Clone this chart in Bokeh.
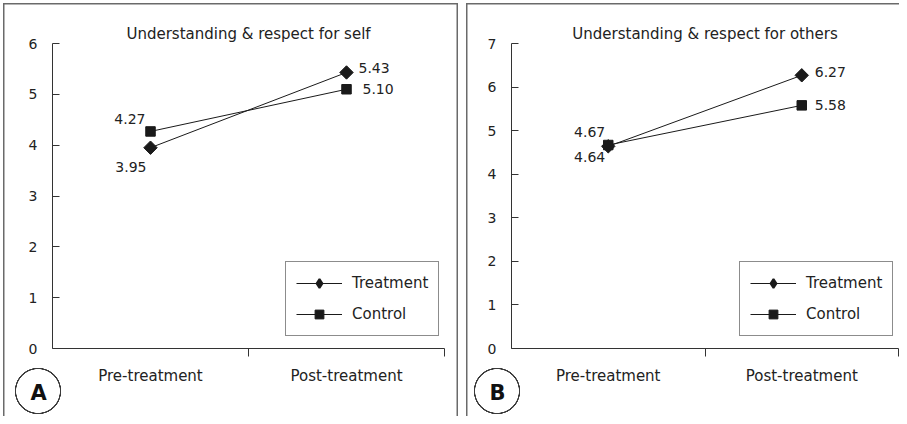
import math
from bokeh.plotting import figure
from bokeh.models import (FactorRange, Range1d, LinearAxis, CategoricalAxis, FixedTicker,
                          ColumnDataSource, Legend, LegendItem, Title)
from bokeh.layouts import row
from bokeh.core.properties import value
from bokeh.embed import file_html
from bokeh.resources import INLINE

# ---------------- data ----------------
categories = ["Pre-treatment", "Post-treatment"]
series_names = ["Treatment", "Control"]
self_title = "Understanding & respect for self"
self_treatment = [3.95, 5.43]
self_control = [4.27, 5.10]
self_ticks = [0, 1, 2, 3, 4, 5, 6]
others_title = "Understanding & respect for others"
others_treatment = [4.64, 6.27]
others_control = [4.67, 5.58]
others_ticks = [0, 1, 2, 3, 4, 5, 6, 7]
panel_letters = ["A", "B"]

# ---------------- styles ----------------
FONT = "DejaVu Sans"
TXT = "#222222"
INK = "#1a1a1a"
AX = "#333333"
# per-label styling (align, x offset px, y offset px; positive y = down)
self_styles = {
    "Treatment": [("right", -4, 19), ("left", 12, -4)],
    "Control": [("right", -5, -12), ("left", 16, 0)],
}
others_styles = {
    "Treatment": [("right", -3, 11), ("left", 13, -3)],
    "Control": [("right", -3, -13), ("left", 13, 0)],
}
RING = "transparent 21.6px, #3a3a3a 22px, #3a3a3a 23px, transparent 23.4px"
panelA_css = {"box-shadow": "inset 3px 3px 0 0 white, inset -4px 0 0 0 white, "
                            "inset 4.5px 4.5px 0 0 #6a6a6a, inset -5.5px 0 0 0 #6a6a6a",
              "background-image": f"radial-gradient(circle at 38px 391px, {RING})"}
panelB_css = {"box-shadow": "inset 4px 3px 0 0 white, inset 5.5px 4.5px 0 0 #6a6a6a",
              "background-image": f"radial-gradient(circle at 35px 391px, {RING})"}


def make_panel(title, treat, ctrl, ticks, styles, letter, width, left, right, legend_x, css):
    p = figure(width=width, height=416, x_range=FactorRange(*categories),
               y_range=Range1d(ticks[0], ticks[-1]),
               x_axis_location=None, y_axis_location=None,
               output_backend="svg", toolbar_location=None,
               min_border_left=left, min_border_right=right,
               min_border_top=43, min_border_bottom=68,
               outline_line_color=None,
               background_fill_alpha=0, border_fill_alpha=0,
               styles=css)
    p.xgrid.visible = False
    p.ygrid.visible = False

    p.title.text = title
    p.title.align = "center"
    p.title.text_font = FONT
    p.title.text_font_size = "15px"
    p.title.text_font_style = "normal"
    p.title.text_color = TXT
    p.title.standoff = 2

    yaxis = LinearAxis(ticker=FixedTicker(ticks=ticks),
                       major_tick_in=7, major_tick_out=0,
                       minor_tick_line_color=None,
                       axis_line_color=AX, major_tick_line_color=AX,
                       major_label_standoff=15,
                       major_label_text_font=FONT,
                       major_label_text_font_size="14px",
                       major_label_text_color=TXT)
    p.add_layout(yaxis, "left")

    tick_axis = LinearAxis(ticker=FixedTicker(ticks=[1, 2]),
                           major_tick_in=0, major_tick_out=8,
                           minor_tick_line_color=None,
                           axis_line_color=AX, major_tick_line_color=AX,
                           major_label_text_font_size="0px",
                           major_label_standoff=0,
                           major_label_overrides={1: "", 2: ""})
    p.add_layout(tick_axis, "below")

    cat_axis = CategoricalAxis(axis_line_color=None, major_tick_line_color=None,
                               major_tick_in=0, major_tick_out=0,
                               major_label_standoff=10,
                               major_label_text_font=FONT,
                               major_label_text_font_size="15px",
                               major_label_text_color=TXT)
    p.add_layout(cat_axis, "below")

    # panel letter (the ring around it is drawn by the CSS background)
    p.add_layout(Title(text=letter, align="left", offset=-22, vertical_align="middle",
                       standoff=-16, text_font=FONT, text_font_size="21px",
                       text_font_style="bold", text_color="#111111"), "below")

    items = []
    for name, vals, ang in [("Treatment", treat, math.pi / 4), ("Control", ctrl, 0)]:
        lr = p.line(x=categories, y=vals, line_color=INK, line_width=1)
        sr = p.scatter(x=categories, y=vals, marker="square", angle=ang, size=9.5,
                       fill_color=INK, line_color=INK)
        if name == "Treatment":
            # legend-only diamond (zero size in the plot, under the rotated square)
            leg_r = p.scatter(x=categories, y=vals, marker="diamond", size=0,
                              fill_color=INK, line_color=INK, line_width=2)
        else:
            leg_r = sr
        st = styles[name]
        src = ColumnDataSource(dict(
            x=categories, y=vals, t=[f"{v:.2f}" for v in vals],
            al=[s[0] for s in st], xo=[s[1] for s in st], yo=[s[2] for s in st]))
        p.text(x="x", y="y", text="t", source=src, text_align="al",
               x_offset="xo", y_offset="yo", text_baseline="middle",
               text_font=value(FONT), text_font_size="14px", text_color=TXT)
        items.append(LegendItem(label=name, renderers=[lr, leg_r]))

    legend = Legend(items=items, location=(legend_x, 12), margin=0,
                    padding=10, spacing=9, glyph_width=46, glyph_height=22,
                    label_height=20, label_standoff=10,
                    label_text_font=FONT, label_text_font_size="15px",
                    label_text_color=TXT,
                    border_line_color=INK, border_line_width=1,
                    background_fill_color="white", background_fill_alpha=1)
    p.add_layout(legend)
    return p


pA = make_panel(self_title, self_treatment, self_control, self_ticks, self_styles,
                panel_letters[0], 462, 52, 18, 233, panelA_css)
pB = make_panel(others_title, others_treatment, others_control, others_ticks, others_styles,
                panel_letters[1], 437, 49, 1, 228, panelB_css)

layout = row(pA, pB, spacing=0)
open("out.html", "w").write(file_html(layout, INLINE))
